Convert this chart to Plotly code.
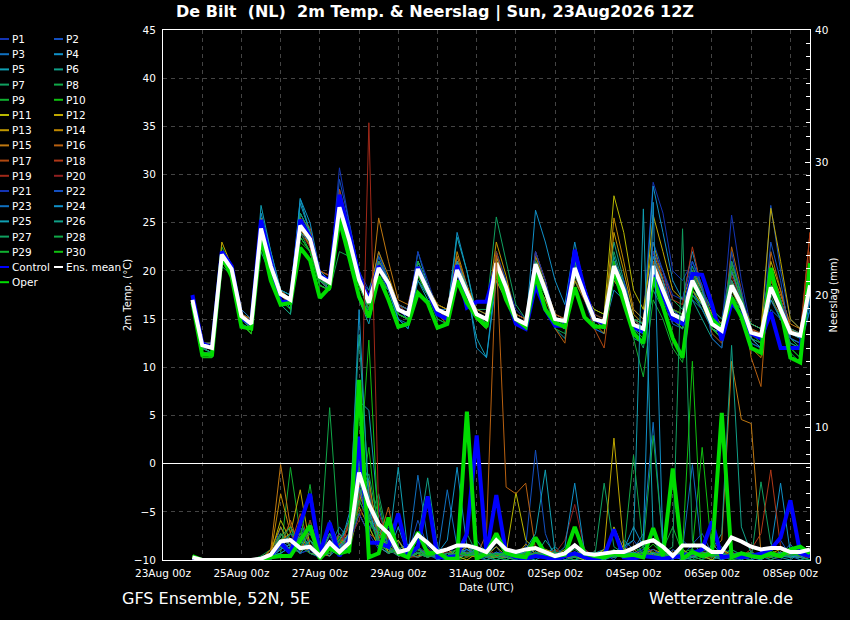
"""GFS ensemble meteogram for De Bilt: 2m temperature and 6-hourly precipitation."""

import pandas as pd
import plotly.graph_objects as go

# forecast steps: 23Aug 18z ... 08Sep 12z, every 6 hours (64 values per series)
times = pd.date_range("2026-08-23 18:00", periods=64, freq="6h")

# ---- 2m temperature (degC) ----
p01_temp = [17.5, 12.5, 12, 22, 20.5, 15.5, 15, 25, 21, 18, 17.5, 26, 24, 20, 19.5, 30.7, 25, 20, 18, 21, 19,
            16.5, 16, 21, 18.5, 16, 15, 19, 17, 15, 14.5, 21.5, 19, 16, 15, 22, 19, 15, 14, 19, 17,
            14, 13.5, 21, 19, 16, 15, 29.2, 26, 20, 19, 21, 18, 15, 14, 25.8, 19, 14, 13, 20, 17, 14, 13, 17]
p02_temp = [17, 12, 11.5, 21.5, 20, 15, 14, 24, 20, 17, 16.5, 24, 23, 19, 18.5, 28.5, 24, 20, 17, 22, 19,
            16, 15, 20, 18, 15.5, 15, 21, 18, 16, 15.5, 22, 19, 15.5, 15, 20, 18, 15, 14, 21, 18,
            15, 14.5, 19, 18, 14, 13, 22, 20, 17, 16, 20, 18, 16, 15, 21, 17.5, 13, 12.5, 26.8, 20, 15, 14, 20]
p03_temp = [17, 12.5, 12, 21, 20, 15, 14.5, 25, 21, 18, 17, 25.5, 23.5, 19, 18, 27, 23, 19, 15.5, 19, 18,
            15, 14.5, 19.5, 17.5, 16, 16, 21, 18, 15, 14.5, 20, 18, 14.5, 14, 19, 17, 15.5, 15, 22, 18,
            14, 13.5, 20, 17, 15, 14, 21, 19, 16, 15, 18, 16, 14, 13, 17, 15, 13, 12, 16, 15, 14, 13.5, 18]
p04_temp = [17.5, 12, 12, 22, 20.5, 15.5, 15, 24.5, 21, 18, 17.5, 27, 24, 20, 19, 27.5, 24, 19, 17, 21, 19,
            16, 15, 22, 18.5, 16, 15.5, 24, 20, 15, 14, 19, 17, 14.5, 14, 26.3, 23, 19, 16.5, 23, 18,
            15, 14, 18, 17, 14, 13.5, 28.8, 24, 19, 17, 22, 18, 15, 14, 19, 17, 14, 13.5, 18, 16.5, 13, 12, 17]
p05_temp = [17, 12, 11.5, 21, 20, 15, 14, 26.8, 22, 18, 16, 27.5, 24, 19.5, 18, 26, 22, 17, 14.5, 19.5, 18,
            15, 14, 19, 17, 16, 15, 20.5, 18, 13, 11, 19, 17, 15, 14.5, 21, 18.5, 14, 13, 20, 17,
            15, 14.5, 21.5, 18, 13, 12.5, 21, 18, 16, 15.5, 18, 17, 14.5, 13.5, 19, 16, 14, 13, 17, 15.5, 12, 12, 16]
p06_temp = [16.5, 12, 12, 21.5, 20, 15, 14, 23.5, 20, 17, 16.5, 26, 24, 19.5, 19, 25, 22.5, 19, 18, 21.5, 19,
            16.5, 16, 20, 18, 16.5, 16, 21.5, 18, 15.5, 15, 22, 18.5, 15, 14.5, 21, 18, 14.5, 14, 19, 17,
            16, 15.5, 23, 19, 15, 14, 21, 18, 15, 14, 17, 15, 13, 12, 19, 16, 12.5, 12, 20, 17, 13, 12.5, 19]
p07_temp = [17, 11.5, 11, 22, 20, 15, 14.5, 23, 20, 17.5, 16.5, 23.5, 22, 19, 18, 25, 22, 19, 16, 20, 18,
            16, 15.5, 21, 18.5, 15.5, 15, 19, 17, 16, 16, 25.6, 21, 16.5, 15, 20, 18, 15.5, 15, 19, 17.5,
            15, 14.5, 20, 18, 14, 12, 18, 16, 15, 14, 20, 17, 15, 14.5, 19, 17, 13, 12.5, 19, 17, 14, 13, 20]
p08_temp = [16.5, 11.5, 11.5, 21, 19.5, 14.5, 14, 24, 20, 16.5, 15.5, 24.5, 22.5, 18.5, 18, 27, 23.5, 19.5, 17.5, 21, 19,
            16.5, 16, 19, 17.5, 15, 14.5, 20, 17.5, 15.5, 15, 21, 18, 14.5, 14, 20.5, 17.5, 15, 14.5, 21, 18,
            15.5, 15, 20, 18, 15, 14.5, 19, 17, 17, 16, 20, 18, 16, 15, 17, 16, 13.5, 13, 17.5, 15, 13, 12, 18]
p09_temp = [17, 12, 11.5, 22.5, 20.5, 15.5, 14.5, 24.5, 20.5, 18, 17.5, 25, 23, 19.5, 19, 26, 22.5, 18.5, 16.5, 19.5, 18,
            15.5, 15, 20.5, 18, 16, 15.5, 19.5, 17.5, 15, 14.5, 19.5, 17.5, 15.5, 15, 21.5, 18.5, 15, 14.5, 20, 17,
            15, 14.5, 19, 17.5, 13, 9, 17, 15, 12, 10.5, 17.5, 16, 14, 13, 18, 16, 14, 13.5, 19, 17, 13.5, 13, 19]
p10_temp = [16.5, 11, 11, 21, 19.5, 14.5, 13.5, 23.5, 20, 17, 16, 23, 22, 18.5, 18, 25.5, 22.5, 19, 17, 20, 18.5,
            16, 15.5, 19, 17.5, 15.5, 15, 20, 17.5, 15, 14.5, 21, 18, 15, 14.5, 19.5, 17.5, 14.5, 14, 19, 17,
            14.5, 14, 20, 17.5, 14.5, 14, 21, 18, 15.5, 15, 18, 16.5, 14, 13, 19, 16.5, 13, 12, 19, 16.5, 12, 11, 20]
p11_temp = [17.5, 12.5, 12, 22, 20.5, 15.5, 15, 24.5, 21, 17.5, 17, 25.5, 23.5, 19.5, 19, 27.5, 24, 19.5, 17, 21, 19,
            16, 15.5, 20, 18, 16, 15.5, 21, 18, 15, 14.5, 21.5, 18.5, 15.5, 15, 20, 17.5, 15, 14.5, 20.5, 17.5,
            16, 15.5, 27.8, 24, 18, 16, 23, 19, 15, 14.5, 18.5, 17, 14, 13.5, 19, 16, 14.5, 14, 21, 18, 14, 13.5, 18.5]
p12_temp = [17, 12.5, 12.5, 23, 20.5, 16, 15, 24, 20.5, 17.5, 17, 24.5, 22.5, 19, 18.5, 26.5, 23, 19, 17, 20.5, 19,
            16.5, 16, 20.5, 18, 16, 15, 19, 17.5, 15.5, 14.5, 20, 18, 14.5, 14, 20, 17.5, 15, 14.5, 19.5, 17.5,
            15, 14, 21, 18.5, 15, 14.5, 25.8, 22, 18, 17, 20, 18, 15.5, 14.5, 20, 17, 14.5, 14, 26.5, 21, 15, 14, 20]
p13_temp = [17, 12.5, 12, 21.5, 20, 15, 14.5, 25.5, 21.5, 17.5, 17, 25, 23.5, 19.5, 19, 26.5, 23, 18.5, 16.5, 19.5, 18,
            15.5, 15, 21, 18.5, 16.5, 16, 21, 18.5, 16, 15.5, 23, 19.5, 15, 14, 19, 17, 14.5, 14, 20.5, 18,
            14.5, 13.5, 24, 20, 15.5, 14.5, 22, 19, 15, 14, 18, 16.5, 14, 13, 21, 17.5, 13, 12, 18, 16, 13.5, 13, 17.5]
p14_temp = [17, 12, 12, 21, 19.5, 15, 14, 25, 21.5, 18, 17, 25.5, 23, 20, 19.5, 28, 24.5, 19.5, 17.5, 22, 19.5,
            16.5, 16, 19.5, 18, 16.5, 16, 22, 18.5, 15.5, 15, 19, 17, 15, 14.5, 21, 18.5, 15.5, 15, 20, 17.5,
            15, 14.5, 25.5, 21, 16, 15, 21, 18, 16, 15.5, 19, 17.5, 14.5, 14, 18, 16, 12, 11, 19, 17, 14, 13, 19]
p15_temp = [17, 12, 11.5, 21, 20, 14.5, 13.5, 24, 20, 17.5, 16.5, 24.5, 22.5, 19, 18, 27, 23.5, 18.5, 16, 25.5, 21,
            17, 16.5, 21, 18.5, 15.5, 14.5, 20, 17.5, 15, 14, 21, 18, 14.5, 14, 21.5, 19, 14.5, 14, 19, 17,
            15, 14.5, 19, 17.5, 14.5, 14, 20, 17.5, 16, 15.5, 18.5, 17, 14, 13, 20, 17, 14, 13.5, 20, 17.5, 14.5, 14, 19.5]
p16_temp = [17.5, 12.5, 12.5, 22, 20.5, 15.5, 15, 24, 20.5, 17.5, 17, 24, 23, 19, 18.5, 25.5, 22.5, 19, 17, 21, 19,
            16, 15.5, 20.5, 18.5, 15.5, 15, 21.5, 18.5, 15.5, 15, 20, 18, 15, 14, 22, 19, 14, 12.5, 20.5, 18,
            15, 14, 20, 18, 15, 14.5, 21.5, 18.5, 15.5, 15, 20, 18, 13.5, 12.5, 22.5, 18, 11, 8, 22, 18, 14, 13, 24]
p17_temp = [17, 12, 11.5, 22, 20.5, 15, 14, 25, 21, 18, 17, 25.5, 24.5, 20, 19.5, 28.5, 24.5, 19, 17, 21, 19,
            16.5, 15.5, 19.5, 18, 16, 15, 20, 18, 15, 14, 19.5, 17.5, 14.5, 14, 21, 18, 15, 14.5, 21, 18,
            14, 12, 20, 17.5, 15, 14, 21, 18.5, 15, 14.5, 19, 17, 14.5, 13.5, 17.5, 15.5, 14, 13, 17, 15.5, 13.5, 13, 22]
p18_temp = [17, 12, 12, 21.5, 20, 15.5, 14.5, 24.5, 21, 17.5, 17, 25, 23, 19.5, 19, 27, 23.5, 19, 16.5, 20, 18.5,
            16, 15.5, 20.5, 18, 16, 15.5, 20.5, 18, 15.5, 15, 21, 18.5, 15.5, 15, 20.5, 18, 15.5, 15, 22, 18.5,
            15, 14.5, 21, 18, 14.5, 14, 22, 20, 17, 16.5, 22.5, 18, 15, 14.5, 18.5, 16.5, 14, 13.5, 19, 17, 14, 13.5, 24]
p19_temp = [17, 12.5, 12, 21, 20, 15, 14.5, 23.5, 20.5, 17.5, 17, 24.5, 23, 19.5, 19, 28, 24.5, 19.5, 17.5, 20, 18.5,
            16, 15.5, 19.5, 17.5, 15.5, 15, 19.5, 17.5, 15.5, 15, 22, 18.5, 15, 14.5, 21, 18, 15, 14.5, 19.5, 17,
            15, 14.5, 20, 17.5, 14.5, 13.5, 19, 17.5, 15, 14.5, 20, 17.5, 14, 13.5, 19.5, 17, 14, 13, 18.5, 16, 14, 13.5, 17]
p20_temp = [17, 12, 11.5, 21.5, 20, 15, 14, 24, 20.5, 17.5, 16.5, 24, 22.5, 19, 18, 26, 23, 18.5, 16, 19.5, 18,
            15.5, 15, 20, 18, 15.5, 15, 20.5, 18, 15, 14.5, 20.5, 18, 15, 14.5, 20, 17.5, 15, 14.5, 20.5, 18,
            15.5, 15, 20, 18, 14.5, 14, 21.5, 19.5, 16, 15.5, 19.5, 17.5, 14.5, 14, 19, 16.5, 13.5, 13, 18, 16, 13, 12.5, 18]
p21_temp = [17, 12, 12, 22, 20, 15, 14, 24.5, 20.5, 17.5, 17, 24.5, 23, 19.5, 19, 27, 23, 19, 16.5, 20, 18.5,
            16, 15.5, 22, 19, 16, 15.5, 20.5, 18, 15, 14.5, 21, 18.5, 15, 14.5, 22, 19, 15, 14.5, 20, 17.5,
            15, 14.5, 20.5, 18, 14.5, 14, 22, 20, 17.5, 17, 21, 18.5, 15, 14, 21, 18, 13.5, 13, 19.5, 17, 13.5, 13, 18]
p22_temp = [17, 12.5, 12, 21.5, 20, 15.5, 14.5, 23.5, 20, 17.5, 17, 24.5, 23.5, 19.5, 19, 29.5, 25, 20, 17, 21.5, 19,
            16.5, 16, 21, 18.5, 15.5, 15, 19.5, 17.5, 15.5, 15, 21, 18.5, 15, 14.5, 20.5, 18, 14.5, 14, 21, 18,
            15, 14.5, 21, 19, 14.5, 14, 23, 20, 16, 15, 21, 18.5, 13, 12, 22, 17, 12.5, 12, 23, 19, 13, 12.5, 20]
p23_temp = [17.5, 12.5, 12.5, 22, 20.5, 16, 15, 24.5, 21, 17.5, 17, 24, 23, 19, 18.5, 26, 23, 19, 16.5, 19.5, 18,
            15.5, 15, 19, 17.5, 16, 15.5, 20, 17.5, 15.5, 15, 20, 18, 15, 14.5, 21, 18, 15, 14.5, 20.5, 18,
            15, 14.5, 19.5, 17.5, 14, 13.5, 19.5, 17, 14.5, 14, 17, 16, 14, 13, 20, 17, 13.5, 13, 20, 17, 13, 12.5, 16]
p24_temp = [17, 12, 11.5, 21.5, 20, 15, 14, 26, 22, 18, 17.5, 27.5, 25, 20, 19, 27, 23, 19, 17, 19, 18,
            15, 14, 21, 18, 15.5, 15, 21, 18.5, 12, 11, 20, 17.5, 14.5, 14, 20.5, 18, 15, 14.5, 20, 17.5,
            15, 14.5, 20.5, 18, 14, 13.5, 21.5, 19, 15, 14.5, 19, 17.5, 14, 13.5, 18.5, 16.5, 13, 12, 17, 15, 12.5, 12, 17]
p25_temp = [17, 12, 11.5, 21.5, 20, 15, 14, 23.5, 20, 17, 16, 25, 24, 19, 18, 26, 23, 18.5, 16.5, 20, 18.5,
            15.5, 15, 20.5, 18, 16, 15.5, 23.5, 20, 15.5, 14.5, 20, 17.5, 15, 14.5, 20, 17.5, 14.5, 14, 22, 18.5,
            15, 14.5, 20.5, 18, 14, 13, 20, 17, 15, 14.5, 17.5, 16.5, 14.5, 14, 18, 16.5, 13.5, 13, 18.5, 16, 13.5, 13, 17.5]
p26_temp = [16.5, 12, 11.5, 22, 20, 15, 14, 22, 19.5, 16.5, 15.5, 23.5, 22, 18.5, 18, 25, 22, 18.5, 16, 21, 19,
            16, 15.5, 20, 18, 15.5, 15, 19.5, 17.5, 15.5, 15, 19.5, 17.5, 15, 14.5, 20.5, 18, 15, 14.5, 21, 18,
            14.5, 14, 20, 17.5, 15, 14.5, 20, 17.5, 15.5, 15, 20.5, 18, 14, 13.5, 19, 16.5, 14.5, 14, 18.5, 16.5, 14, 13.5, 19]
p27_temp = [17, 12, 11.5, 21.5, 20, 14.5, 14, 25, 21.5, 17.5, 17, 26, 24, 19, 18.5, 25.5, 22.5, 18.5, 16.5, 20.5, 18.5,
            16, 15.5, 20, 18, 16, 15.5, 20, 18, 15.5, 15, 19.5, 17.5, 14.5, 14, 21, 18, 15, 14.5, 19.5, 17.5,
            15, 14.5, 22, 18.5, 15, 14.5, 19, 17, 15, 14.5, 20, 17.5, 15, 14.5, 17.5, 16, 13.5, 13, 18, 16, 12.5, 12, 18]
p28_temp = [16.5, 11.5, 11.5, 20.5, 19.5, 14.5, 13.5, 23, 19.5, 17, 16, 24, 22, 18.5, 18, 22, 21.5, 18.5, 16.5, 20, 18.5,
            15.5, 15, 19.5, 17.5, 15, 14.5, 20.5, 18, 15.5, 15, 20, 18, 15, 14, 19.5, 17.5, 14, 13.5, 20, 17.5,
            14.5, 14, 20, 18, 15, 14.5, 20.5, 18, 15, 14.5, 19.5, 17.5, 14.5, 14, 21, 17.5, 13.5, 13, 19.5, 16.5, 11.5, 10.5, 19.5]
p29_temp = [17, 11.5, 11.5, 21, 19.5, 15, 14, 24.5, 21, 17, 16.5, 24.5, 23, 19, 18.5, 26, 23, 18.5, 16, 19, 18,
            16, 15.5, 21, 18.5, 16, 15.5, 20.5, 18, 15, 14.5, 20, 17.5, 15, 14.5, 20, 18, 15, 14.5, 20.5, 18,
            14.5, 14, 21, 18, 14, 13, 20, 17.5, 15, 14, 19, 17, 14, 13, 20.5, 17, 13.5, 13, 20, 17, 12, 11, 20.5]
p30_temp = [16.5, 11, 11, 21, 19.5, 14.5, 13.5, 23.5, 20, 17, 16, 23.5, 22, 18.5, 18, 25, 22.5, 18.5, 16.5, 19.5, 18,
            15.5, 15, 19.5, 17.5, 15.5, 15, 20.5, 18, 15, 14, 21, 18, 15, 14.5, 19.5, 17.5, 14.5, 14, 20, 17.5,
            15, 14.5, 21, 18, 14.5, 14, 19.5, 17.5, 16, 15.5, 18.5, 17, 14, 13, 18.5, 16, 13.5, 12.5, 18.5, 16.5, 11, 10.5, 20]
control_temp = [17.5, 12.5, 12, 22, 20.5, 15.1, 14.5, 25.3, 21, 16.8, 16.8, 25.3, 23.5, 19.5, 19, 27.9, 24, 19.5, 17, 20.5, 18.5,
                16, 15.5, 20.4, 18, 15.5, 15, 20.6, 16.2, 16.8, 16.8, 20.5, 17.5, 14.5, 14, 18.5, 16, 14.3, 14.3, 22.2, 18,
                15, 14.5, 20, 17.5, 14.2, 13.7, 20.1, 17.5, 15, 14.5, 19.7, 19.6, 16.5, 12.8, 16.7, 15.5, 13.5, 13, 15.7, 12, 12, 12, 19.4]
oper_temp = [16.7, 11.3, 11.3, 21.6, 19.4, 14.2, 14, 23.5, 19, 16.5, 16.7, 22.4, 21.1, 17.2, 18.3, 25.3, 21.4, 17.3, 15.2, 19.4, 17,
             14.2, 14.5, 17.7, 16.7, 14.1, 14.5, 19, 16.7, 15.2, 14.2, 20.1, 17, 15, 14.2, 19.6, 16, 14.6, 14.2, 18.3, 15.2,
             14.2, 14.2, 20.1, 16.7, 13.5, 12.5, 19.3, 16.3, 13, 11, 18.9, 17, 15, 14, 17.2, 15.2, 12, 11.5, 20.3, 16, 11, 10.5, 20.8]
mean_temp = [17, 12.3, 12, 21.7, 20.2, 15.3, 14.5, 24.4, 20.5, 17.6, 17, 24.7, 23.3, 19.4, 18.8, 26.6, 23.2, 19.1, 16.7, 20.3, 18.7,
             16, 15.5, 20.2, 18, 16, 15.5, 20.1, 17.8, 15.5, 15, 20.8, 18.3, 15, 14.5, 20.7, 18, 15, 14.8, 20.3, 17.5,
             15, 14.7, 20.5, 18, 14.4, 14, 20.5, 18, 15.5, 15, 19, 17, 14.5, 13.8, 18.5, 16.5, 13.6, 13.3, 18.3, 16, 13.6, 13.3, 18.5]

# ---- 6-hourly precipitation (mm) ----
p01_rain = [0.3, 0, 0, 0, 0, 0, 0, 0, 0.5, 1.2, 0.8, 2.5, 1.5, 0.3, 1.8, 0.5, 2.0, 6.0, 3.5, 1.5, 2.5, 0.5, 0.2, 1.0,
            0.5, 0, 0.3, 1.2, 0.8, 0.4, 0, 0.5, 0.2, 0, 0.8, 1.5, 0.3, 0, 0, 0.6, 0, 0, 0.3, 0.5, 1.2, 0.4, 0.8, 2.0,
            0.5, 0, 1.5, 0.8, 0.3, 0, 0.5, 0.8, 0.3, 0, 0.6, 0.2, 0, 1.0, 0.5, 0.2]
p02_rain = [0, 0, 0, 0, 0, 0, 0, 0, 0.2, 2.5, 1.0, 0.5, 0.8, 0, 3.0, 1.0, 0.5, 9.0, 2.0, 4.0, 1.0, 0.3, 0.5, 3.0,
            1.0, 0.2, 0, 0.5, 0.3, 1.5, 0.5, 1.0, 0, 0.3, 1.0, 8.3, 2.0, 0, 0.3, 0.5, 0.2, 0, 0.5, 0, 0.8, 1.5, 0.5, 0.2,
            0, 0.8, 0.3, 1.2, 2.0, 0.5, 0, 0.3, 0.5, 0.2, 0, 0.8, 1.5, 0.3, 0, 0.5]
p03_rain = [0, 0, 0, 0, 0, 0, 0, 0, 0.3, 0.8, 2.0, 1.5, 0.5, 0.5, 1.0, 2.5, 1.5, 5.0, 4.0, 2.0, 0.8, 1.5, 0.5, 6.4,
            1.5, 0.3, 0.5, 0, 0.8, 0.2, 0, 0.3, 0.5, 0.2, 0, 0.6, 0.3, 0.8, 0, 0, 0.5, 0.2, 0, 0.3, 1.5, 0.8, 2.0, 10.4,
            1.0, 0.3, 0, 0.5, 0.2, 0.8, 0.3, 0, 0, 0.5, 0.3, 0, 0.4, 1.2, 0.2, 0]
p04_rain = [0.2, 0, 0, 0, 0, 0, 0, 0, 0, 1.5, 0.5, 3.0, 1.0, 0.2, 2.0, 0.8, 3.5, 8.0, 6.0, 1.0, 0.5, 2.5, 0.3, 0.8,
            0.3, 0.5, 1.5, 7.0, 1.0, 0.3, 0.5, 0.2, 0, 0.4, 0.3, 0.8, 0.5, 0.3, 0.2, 1.0, 0.3, 0, 0.2, 0.5, 0.8, 2.5, 1.0, 0.4,
            0.5, 0, 0.8, 0.3, 0, 1.2, 0.5, 0.3, 0.2, 0, 0.3, 0.8, 5.8, 0.5, 0.3, 0]
p05_rain = [0, 0, 0, 0, 0, 0, 0, 0, 0.3, 0.5, 1.0, 0.8, 2.2, 0.5, 0.3, 1.5, 2.5, 12.0, 11.3, 3.0, 0.5, 0.8, 1.2, 0.5,
            0.8, 0, 0.3, 0.5, 1.0, 0.6, 0.2, 0, 0.3, 0.5, 0.2, 0, 0.4, 1.0, 0.3, 0, 0.2, 0.5, 0.8, 0.3, 1.0, 1.5, 26.5, 2.0,
            0.5, 0.3, 0, 0.2, 0.6, 0.3, 0, 0.5, 0.2, 0.3, 0, 0.5, 0.2, 0, 0.6, 0.3]
p06_rain = [0, 0, 0, 0, 0, 0, 0, 0, 0.2, 1.0, 0.5, 1.8, 1.0, 0.3, 2.5, 1.0, 1.2, 7.0, 5.5, 2.0, 3.0, 0.8, 0.5, 1.5,
            6.2, 1.0, 0.3, 0, 0.5, 0.8, 0.3, 0.5, 0.2, 0, 0.5, 0.3, 1.5, 0.5, 0, 0.3, 0.8, 0.2, 0, 0.5, 0.3, 0.8, 1.2, 0.5,
            0.3, 0.6, 0.2, 0, 0.8, 0.5, 1.0, 0.3, 0, 0.4, 0.2, 0.6, 0.3, 0.5, 0, 0.2]
p07_rain = [0, 0, 0, 0, 0, 0, 0, 0, 0.5, 1.8, 2.5, 0.5, 1.5, 0.2, 0.8, 0.3, 0.8, 4.5, 3.0, 5.0, 1.5, 0.3, 0.8, 1.0,
            0.3, 0.2, 0.5, 0.8, 2.0, 0.5, 0, 0.3, 0.6, 0.2, 0.3, 0.5, 0.2, 0, 0.5, 0.8, 0.3, 0, 5.8, 1.0, 0.5, 0.3, 0.8, 1.5,
            0.3, 0.5, 0.2, 0.8, 0.4, 0, 0.3, 0.5, 0.2, 0, 5.9, 1.2, 0.5, 0.3, 0.2, 0.5]
p08_rain = [0, 0, 0, 0, 0, 0, 0, 0.3, 0.8, 2.0, 1.0, 0.5, 3.0, 0.5, 11.5, 1.0, 0.5, 6.5, 2.5, 1.0, 0.8, 1.5, 0.2, 0.5,
            0.2, 0.8, 0.3, 0, 0.5, 1.0, 0.4, 0, 0.3, 0.5, 0, 0.2, 0.6, 0.3, 0.8, 0.2, 0, 0.5, 0.3, 0.8, 0.2, 0.5, 1.0, 9.4,
            1.2, 0.3, 0.5, 0, 0.2, 0.6, 0.3, 0.8, 0.4, 0.2, 0.5, 0, 0.3, 0.6, 0.2, 0]
p09_rain = [0.2, 0, 0, 0, 0, 0, 0, 0, 0.3, 0.5, 7.0, 2.0, 1.0, 0.2, 1.5, 0.5, 1.0, 3.5, 2.0, 4.5, 1.0, 0.5, 0.3, 0.8,
            0.5, 0.2, 0, 0.6, 0.3, 0.8, 0.2, 1.5, 0.3, 0, 0.4, 0.2, 0.8, 0.5, 0.3, 0, 0.5, 0.2, 0.8, 0.3, 0.6, 1.0, 0.5, 0.3,
            0.8, 2.5, 0.5, 0.3, 0, 0.4, 0.8, 0.2, 0.5, 0.3, 0.2, 0.6, 0.3, 0.2, 0.5, 0.4]
p10_rain = [0, 0, 0, 0, 0, 0, 0, 0, 0.2, 1.0, 0.5, 1.5, 2.5, 0.8, 0.5, 1.8, 0.5, 4.0, 8.5, 1.5, 0.5, 1.0, 0.3, 0.5,
            0.8, 0.3, 0.5, 0, 0.2, 0.5, 1.0, 0.3, 0, 0.4, 0.2, 0.5, 0.3, 0.8, 0.2, 0.5, 0.3, 0, 0.5, 0.2, 0.8, 0.3, 0.5, 1.2,
            0.4, 0.3, 0.6, 0.8, 8.5, 0.5, 0.3, 0, 0.2, 0.5, 0.3, 0.8, 0.2, 0.4, 0.6, 0.3]
p11_rain = [0.3, 0, 0, 0, 0, 0, 0, 0, 0.5, 3.0, 1.5, 2.0, 0.5, 0.3, 1.0, 2.0, 0.8, 5.5, 3.0, 2.5, 0.5, 1.0, 0.2, 0.3,
            0.5, 0.2, 0.8, 0.3, 0, 0.5, 0.3, 0.2, 0.5, 5.1, 1.5, 0.8, 0.3, 0.5, 0.2, 0.3, 0, 0.5, 0.2, 2.5, 0.8, 0.3, 0.5, 0.2,
            0.3, 0.6, 0.2, 0.5, 0.3, 0, 0.8, 0.4, 0.2, 0.3, 0.5, 0.2, 0.6, 0.3, 0.5, 0.2]
p12_rain = [0, 0, 0, 0, 0, 0, 0, 0, 0.3, 1.5, 2.0, 5.3, 1.0, 0.5, 0.8, 1.2, 2.0, 4.0, 2.5, 1.0, 2.0, 0.3, 0.5, 0.8,
            0.2, 0.5, 0.3, 0.8, 0.5, 0.2, 0.3, 1.0, 0.3, 0.2, 0.5, 0.3, 0.8, 0.5, 0.3, 0.6, 0.2, 0.3, 0.8, 9.2, 1.0, 0.3, 0.5, 0.8,
            0.5, 0.2, 0.3, 0.6, 0.4, 0.8, 0.2, 0.3, 0.5, 0.2, 0.4, 0.3, 0.6, 0.2, 0.4, 0.3]
p13_rain = [0, 0, 0, 0, 0, 0, 0, 0, 0.8, 2.5, 1.0, 1.5, 0.5, 0.3, 2.0, 0.8, 1.5, 8.0, 4.5, 3.0, 0.5, 1.5, 0.3, 0.5,
            0.3, 0.8, 0.2, 0.5, 1.0, 0.3, 0.5, 0.2, 0.6, 0.3, 1.2, 0.5, 0.2, 0.3, 0.8, 0.5, 0.3, 0.6, 0.2, 0.5, 0.3, 0.8, 1.5, 0.3,
            0.5, 0.2, 0.8, 0.3, 0.6, 0.5, 0.3, 0.2, 0.6, 0.3, 0.2, 0.5, 0.8, 0.3, 0.2, 0.5]
p14_rain = [0, 0, 0, 0, 0, 0, 0, 0, 0.5, 5.0, 2.0, 1.0, 0.8, 0.2, 1.5, 0.5, 3.0, 4.5, 6.0, 1.5, 1.0, 0.5, 0.3, 0.8,
            0.5, 0.2, 0.3, 0.8, 0.4, 0.2, 0.6, 0.3, 0.2, 0.5, 0.3, 0.6, 0.2, 0.4, 0.3, 0.5, 0.6, 0.3, 0.5, 0.2, 0.8, 0.4, 0.3, 0.6,
            0.3, 0.5, 0.2, 0.4, 0.6, 0.3, 0.8, 0.2, 0.4, 0.6, 0.3, 0.2, 0.5, 0.3, 0.6, 0.4]
p15_rain = [0, 0, 0, 0, 0, 0, 0, 0, 0.8, 7.2, 2.5, 1.5, 0.5, 0.3, 1.0, 1.5, 0.8, 5.0, 3.0, 2.0, 0.8, 0.5, 0.2, 0.5,
            0.3, 0.5, 0.2, 0.8, 0.3, 0.5, 0.2, 0.3, 0.5, 0.3, 0.2, 0.5, 0.8, 0.3, 0.2, 0.4, 0.3, 0.5, 0.2, 0.3, 0.6, 0.8, 0.3, 0.5,
            0.2, 0.4, 0.3, 0.5, 0.3, 0.8, 1.5, 15.0, 10.6, 10.3, 0.5, 0.3, 0.2, 0.6, 0.4, 0.3]
p16_rain = [0, 0, 0, 0, 0, 0, 0, 0, 0.3, 1.0, 3.0, 0.8, 1.5, 0.5, 0.3, 2.0, 1.0, 3.5, 2.0, 1.5, 4.0, 0.3, 0.5, 0.2,
            0.5, 0.3, 0.8, 0.2, 0.5, 0.3, 2.0, 23.0, 5.5, 5.0, 5.8, 0.8, 0.3, 0.5, 0.2, 0.3, 0.5, 0.2, 0.3, 0.6, 0.2, 0.5, 0.3, 0.8,
            0.3, 0.5, 0.2, 0.6, 0.3, 0.2, 0.5, 0.3, 0.2, 0.5, 0.3, 0.6, 0.2, 0.4, 0.3, 0.5]
p17_rain = [0, 0, 0, 0, 0, 0, 0, 0, 0.5, 2.0, 1.0, 3.5, 1.0, 0.3, 0.8, 1.2, 2.5, 6.5, 5.0, 1.0, 0.5, 0.8, 0.3, 0.5,
            0.2, 0.5, 0.3, 0.6, 0.2, 0.8, 0.3, 0.5, 0.3, 0.2, 0.6, 0.3, 0.5, 0.2, 0.4, 0.6, 0.3, 0.5, 0.2, 0.4, 0.3, 0.6, 0.2, 0.5,
            0.4, 0.3, 0.6, 0.2, 0.5, 0.3, 0.8, 0.2, 0.5, 0.3, 0.2, 0.6, 0.4, 0.8, 0.3, 0.2]
p18_rain = [0, 0, 0, 0, 0, 0, 0, 0, 0.2, 1.5, 0.8, 1.0, 2.0, 0.5, 1.5, 0.5, 3.0, 5.0, 4.0, 2.0, 1.0, 0.3, 0.5, 0.8,
            0.5, 0.3, 0.2, 0.5, 0.8, 0.3, 0.6, 0.2, 0.4, 0.3, 0.5, 0.2, 0.6, 0.3, 0.2, 0.5, 0.3, 0.6, 0.2, 0.5, 0.3, 0.2, 0.6, 0.3,
            0.5, 0.2, 0.4, 0.3, 0.6, 0.5, 0.2, 0.4, 0.3, 0.8, 2.0, 6.8, 1.0, 0.5, 0.3, 0.2]
p19_rain = [0, 0, 0, 0, 0, 0, 0, 0, 0.3, 0.8, 1.2, 0.5, 3.0, 0.5, 0.8, 1.5, 2.0, 4.0, 33.0, 3.5, 1.5, 0.5, 0.3, 0.5,
            0.8, 0.3, 0.5, 0.2, 0.6, 0.4, 0.3, 0.5, 0.3, 0.6, 0.2, 0.5, 0.3, 0.8, 0.3, 0.2, 0.5, 0.3, 0.6, 0.2, 0.4, 0.3, 0.5, 0.3,
            0.6, 0.2, 0.3, 0.5, 0.2, 0.6, 0.3, 0.4, 0.2, 0.5, 0.3, 0.4, 0.6, 0.2, 0.5, 0.3]
p20_rain = [0, 0, 0, 0, 0, 0, 0, 0, 0.5, 1.0, 0.5, 2.0, 0.8, 0.3, 1.2, 0.5, 1.5, 3.0, 5.5, 1.0, 2.0, 0.5, 0.3, 0.2,
            0.5, 0.3, 0.6, 0.2, 0.5, 0.3, 0.8, 0.4, 0.3, 0.5, 0.2, 0.6, 0.3, 0.5, 1.5, 4.2, 0.8, 0.3, 0.5, 0.2, 0.6, 0.3, 0.2, 0.5,
            0.3, 0.6, 0.2, 0.4, 0.3, 0.5, 0.2, 0.6, 0.3, 0.2, 0.5, 0.3, 0.4, 0.6, 0.3, 0.2]
p21_rain = [0, 0, 0, 0, 0, 0, 0, 0, 0.3, 1.2, 2.0, 0.5, 0.8, 0.2, 1.0, 2.0, 1.2, 3.5, 2.0, 0.8, 1.5, 0.3, 0.5, 0.8,
            0.3, 0.5, 0.2, 0.6, 0.3, 0.8, 0.2, 0.5, 0.6, 0.2, 0.4, 0.3, 0.5, 0.2, 0.6, 0.3, 0.5, 0.3, 0.2, 0.6, 0.3, 0.5, 0.8, 0.3,
            0.2, 0.5, 0.3, 0.6, 0.2, 0.4, 0.5, 0.3, 0.6, 0.2, 0.3, 0.5, 0.2, 0.8, 0.4, 0.3]
p22_rain = [0, 0, 0, 0, 0, 0, 0, 0, 0.2, 0.8, 1.5, 1.0, 2.5, 0.3, 0.5, 1.0, 0.8, 6.0, 3.0, 1.5, 0.5, 1.0, 0.2, 0.5,
            0.3, 0.2, 0.5, 0.3, 0.8, 0.5, 0.2, 0.6, 0.3, 0.5, 0.2, 0.4, 0.6, 0.3, 0.5, 0.2, 0.4, 0.6, 0.3, 0.2, 0.5, 0.3, 0.6, 0.8,
            0.3, 0.2, 0.5, 0.4, 0.3, 0.6, 0.2, 0.5, 0.3, 0.6, 0.2, 0.4, 0.5, 0.3, 0.2, 0.6]
p23_rain = [0, 0, 0, 0, 0, 0, 0, 0, 0.5, 1.5, 0.8, 2.5, 0.5, 0.2, 1.5, 0.8, 2.0, 5.5, 2.5, 3.0, 1.0, 0.5, 0.3, 0.8,
            0.5, 0.3, 5.3, 1.0, 0.5, 0.3, 0.2, 0.6, 0.3, 0.5, 0.2, 0.6, 0.3, 0.4, 0.2, 0.5, 0.3, 0.2, 0.5, 0.3, 0.6, 0.4, 0.3, 0.5,
            0.6, 0.3, 0.8, 7.2, 0.5, 0.3, 0.2, 0.4, 0.3, 0.5, 0.2, 0.6, 0.3, 0.2, 0.5, 0.3]
p24_rain = [0, 0, 0, 0, 0, 0, 0, 0, 0.3, 0.5, 1.0, 1.5, 0.8, 0.5, 2.0, 0.5, 1.5, 18.9, 4.0, 1.0, 0.5, 0.8, 0.3, 0.5,
            0.2, 0.6, 0.3, 0.5, 0.8, 0.3, 0.5, 0.2, 0.4, 0.3, 0.6, 0.2, 0.5, 0.3, 1.0, 5.8, 0.6, 0.3, 0.2, 0.5, 0.4, 0.8, 1.5, 27.0,
            1.0, 0.5, 0.3, 0.2, 0.6, 0.3, 0.5, 0.2, 0.4, 0.3, 0.6, 0.2, 0.5, 0.3, 0.2, 0.6]
p25_rain = [0, 0, 0, 0, 0, 0, 0, 0, 0.2, 0.8, 1.2, 0.5, 1.5, 0.8, 0.3, 1.0, 2.0, 7.5, 3.0, 2.0, 1.0, 7.0, 0.5, 0.8,
            0.3, 0.5, 0.2, 0.8, 0.4, 0.3, 0.6, 0.2, 0.5, 0.3, 0.8, 2.0, 6.8, 0.5, 0.3, 0.2, 0.6, 0.3, 0.5, 0.2, 0.4, 0.6, 0.3, 0.5,
            0.2, 0.5, 0.3, 0.6, 0.2, 0.4, 0.3, 0.5, 0.3, 0.2, 0.5, 0.3, 0.6, 0.2, 0.4, 0.3]
p26_rain = [0, 0, 0, 0, 0, 0, 0, 0, 0.5, 1.0, 0.5, 2.0, 1.0, 0.3, 0.8, 1.5, 3.0, 17.0, 5.0, 1.5, 0.8, 0.3, 0.5, 0.2,
            0.6, 0.3, 0.5, 0.2, 0.4, 0.8, 0.3, 0.5, 0.2, 0.4, 0.6, 0.3, 0.5, 0.2, 0.3, 0.6, 0.4, 0.2, 0.5, 0.3, 0.6, 0.4, 0.3, 0.2,
            0.5, 0.3, 0.6, 0.2, 0.4, 0.8, 2.0, 16.2, 2.5, 0.5, 0.3, 0.6, 0.2, 0.4, 0.5, 0.3]
p27_rain = [0, 0, 0, 0, 0, 0, 0, 0, 0.3, 2.0, 1.0, 0.8, 1.5, 0.5, 1.2, 0.3, 1.0, 5.0, 6.5, 2.5, 0.8, 0.5, 0.3, 0.6,
            0.4, 0.2, 0.5, 0.3, 0.6, 0.3, 0.8, 0.2, 0.5, 0.3, 0.2, 0.6, 0.4, 0.3, 0.5, 0.2, 0.3, 0.6, 0.2, 0.5, 0.3, 0.4, 0.6, 0.3,
            0.5, 1.0, 25.0, 1.5, 0.3, 0.6, 0.2, 0.4, 0.3, 0.5, 0.2, 0.6, 0.4, 0.3, 0.5, 0.2]
p28_rain = [0, 0, 0, 0, 0, 0, 0, 0.2, 0.5, 1.5, 2.5, 1.0, 0.5, 0.3, 2.0, 0.8, 1.5, 6.0, 3.5, 1.0, 2.0, 0.5, 0.3, 0.5,
            0.3, 0.6, 0.2, 0.5, 0.3, 0.8, 0.2, 0.4, 0.6, 0.3, 0.5, 0.2, 0.4, 0.6, 0.3, 0.5, 0.2, 0.4, 0.6, 0.3, 0.5, 7.9, 0.8, 0.3,
            0.5, 0.2, 0.4, 0.6, 0.3, 0.5, 0.2, 0.4, 0.6, 0.3, 0.5, 0.2, 0.4, 0.3, 0.6, 0.5]
p29_rain = [0, 0, 0, 0, 0, 0, 0, 0, 0.3, 1.0, 2.0, 1.5, 5.7, 0.5, 1.0, 0.8, 1.2, 4.5, 3.0, 1.5, 0.5, 0.8, 0.3, 0.5,
            0.2, 0.5, 0.3, 0.8, 0.4, 0.6, 0.3, 0.5, 0.3, 0.6, 0.2, 0.5, 0.3, 0.4, 0.6, 0.2, 0.5, 0.3, 0.6, 0.2, 0.4, 0.5, 0.3, 0.6,
            0.2, 0.5, 0.3, 0.4, 0.6, 0.2, 0.5, 0.3, 0.4, 0.6, 0.2, 0.5, 0.3, 0.6, 0.4, 0.2]
p30_rain = [0, 0, 0, 0, 0, 0, 0, 0, 0.5, 1.2, 0.8, 1.0, 2.0, 0.3, 0.5, 1.5, 1.0, 6.0, 16.6, 2.0, 1.0, 0.5, 0.3, 0.8,
            0.3, 0.5, 0.2, 0.6, 0.4, 0.3, 0.5, 0.2, 0.6, 0.3, 0.5, 0.2, 0.4, 0.3, 0.6, 0.5, 0.3, 0.5, 0.2, 0.6, 0.3, 0.4, 0.5, 0.3,
            0.6, 0.3, 0.8, 15.0, 0.5, 0.3, 0.4, 0.2, 0.5, 0.3, 0.6, 0.2, 0.4, 0.5, 0.3, 0.6]
control_rain = [0, 0, 0, 0, 0, 0, 0, 0, 0.3, 1.3, 0.5, 2.8, 5.0, 0.5, 2.8, 0.3, 1.5, 9.3, 1.3, 1.3, 1.0, 3.5, 0.3, 1.0,
                4.8, 0.2, 0.2, 0.3, 2.0, 9.4, 0.5, 4.9, 0.5, 0.2, 0.1, 0.3, 0.2, 0, 0.3, 0.5, 0.2, 0, 0.3, 2.3, 0.2, 0.1, 0.3, 0.2,
                0.1, 0.2, 0.3, 0.5, 0.8, 2.9, 0.2, 0.3, 0.2, 0.3, 0.5, 0.8, 1.7, 4.5, 0.5, 0.3]
oper_rain = [0.3, 0, 0, 0, 0, 0, 0, 0, 0.2, 0.3, 0.3, 1.5, 2.6, 0.1, 0.9, 0.5, 0.7, 13.6, 0.2, 0.5, 3.2, 0.5, 0.2, 2.1,
             0.5, 0.6, 0.1, 0.1, 11.2, 0.1, 0.5, 2.0, 0.5, 0.3, 0.2, 1.7, 0.5, 0.3, 0.4, 2.5, 0.5, 0.3, 0.2, 0.5, 0.3, 0.4, 0.2, 2.4,
             0.3, 6.9, 0.1, 0.6, 0.3, 0.5, 11.1, 0.2, 0.5, 0.3, 0.2, 0.5, 0.3, 0.8, 1.0, 0.5]
mean_rain = [0.2, 0, 0, 0, 0, 0, 0, 0.1, 0.4, 1.4, 1.5, 0.9, 1.0, 0.3, 1.3, 0.6, 1.3, 6.6, 4.2, 2.7, 2.0, 0.6, 0.8, 1.9,
             1.3, 0.6, 0.8, 1.1, 1.1, 0.9, 0.6, 1.5, 0.8, 0.6, 0.8, 0.9, 0.6, 0.3, 0.5, 1.1, 0.5, 0.4, 0.5, 0.6, 0.6, 0.9, 1.3, 1.5,
             1.0, 0.3, 1.1, 1.1, 1.1, 0.6, 0.6, 1.7, 1.4, 1.0, 0.8, 0.9, 0.9, 0.6, 0.6, 0.8]

member_temps = [p01_temp, p02_temp, p03_temp, p04_temp, p05_temp, p06_temp, p07_temp, p08_temp, p09_temp, p10_temp,
                p11_temp, p12_temp, p13_temp, p14_temp, p15_temp, p16_temp, p17_temp, p18_temp, p19_temp, p20_temp,
                p21_temp, p22_temp, p23_temp, p24_temp, p25_temp, p26_temp, p27_temp, p28_temp, p29_temp, p30_temp]
member_rains = [p01_rain, p02_rain, p03_rain, p04_rain, p05_rain, p06_rain, p07_rain, p08_rain, p09_rain, p10_rain,
                p11_rain, p12_rain, p13_rain, p14_rain, p15_rain, p16_rain, p17_rain, p18_rain, p19_rain, p20_rain,
                p21_rain, p22_rain, p23_rain, p24_rain, p25_rain, p26_rain, p27_rain, p28_rain, p29_rain, p30_rain]

# P1-P20 run blue -> green -> yellow -> red; P21-P30 reuse the first ten
palette = ["#1434b4", "#1450c0", "#1070c0", "#1090c8", "#10a0b4", "#10a088", "#10a060", "#10a848", "#10b030", "#10c010",
           "#b8b800", "#c0a800", "#c09800", "#c08800", "#c07810", "#b86010", "#b04810", "#b03818", "#a02818", "#902020"]
member_colors = palette + palette[:10]
member_names = [f"P{k}" for k in range(1, 31)]
CONTROL_COLOR = "#0000ff"
OPER_COLOR = "#00dd00"
MEAN_COLOR = "#ffffff"

FONT = "DejaVu Sans"
GRID = "#444444"
W, H = 850, 620
PL, PR, PT, PB = 163, 810, 30, 560


def fx(px):
    return (px - PL) / (PR - PL)


def fy(py):
    return (PB - py) / (PB - PT)


fig = go.Figure()

for name, color, temp in zip(member_names, member_colors, member_temps):
    fig.add_trace(go.Scatter(x=times, y=temp, name=name, mode="lines",
                             line=dict(color=color, width=1), yaxis="y"))
for name, color, rain in zip(member_names, member_colors, member_rains):
    fig.add_trace(go.Scatter(x=times, y=rain, name=name, mode="lines",
                             line=dict(color=color, width=1), yaxis="y2"))

for name, color, temp, rain in [
    ("Control", CONTROL_COLOR, control_temp, control_rain),
    ("Oper", OPER_COLOR, oper_temp, oper_rain),
    ("Ens. mean", MEAN_COLOR, mean_temp, mean_rain),
]:
    fig.add_trace(go.Scatter(x=times, y=temp, name=name, mode="lines",
                             line=dict(color=color, width=4), yaxis="y"))
    fig.add_trace(go.Scatter(x=times, y=rain, name=name, mode="lines",
                             line=dict(color=color, width=4), yaxis="y2"))

# two-column legend on the left, drawn by hand
legend_items = list(zip(member_names, member_colors))
legend_items += [("Control", CONTROL_COLOR), ("Ens. mean", MEAN_COLOR), ("Oper", OPER_COLOR)]
shapes, annotations = [], []
for k, (name, color) in enumerate(legend_items):
    row, col = divmod(k, 2)
    y = 39 + 15.2 * row
    x0 = 0 if col == 0 else 54
    shapes.append(dict(type="line", xref="paper", yref="paper",
                       x0=fx(x0), x1=fx(x0 + 9), y0=fy(y), y1=fy(y),
                       line=dict(color=color, width=2)))
    annotations.append(dict(text=name, xref="paper", yref="paper", x=fx(x0 + 9.5), y=fy(y),
                            xanchor="left", yanchor="middle", showarrow=False,
                            font=dict(family=FONT, size=10.5, color="white")))

annotations += [
    dict(text="<b>De Bilt  (NL)  2m Temp. & Neerslag | Sun, 23Aug2026 12Z</b>",
         xref="paper", yref="paper", x=fx(435), y=fy(12), xanchor="center", yanchor="middle",
         showarrow=False, font=dict(family=FONT, size=16, color="white")),
    dict(text="GFS Ensemble, 52N, 5E", xref="paper", yref="paper", x=fx(120), y=fy(598),
         xanchor="left", yanchor="middle", showarrow=False,
         font=dict(family=FONT, size=16, color="white")),
    dict(text="Wetterzentrale.de", xref="paper", yref="paper", x=fx(795), y=fy(598),
         xanchor="right", yanchor="middle", showarrow=False,
         font=dict(family=FONT, size=16, color="white")),
]

tick_font = dict(family=FONT, size=10.5, color="white")
fig.update_layout(
    width=W, height=H,
    margin=dict(l=PL, r=W - PR, t=PT, b=H - PB),
    paper_bgcolor="black", plot_bgcolor="black",
    showlegend=False,
    shapes=shapes, annotations=annotations,
    xaxis=dict(
        type="date", range=["2026-08-23 00:00", "2026-09-08 12:00"],
        tick0="2026-08-23", dtick=2 * 86400000, tickformat="%d%b %Hz",
        tickfont=tick_font, ticklabelstandoff=3,
        showgrid=True, gridcolor=GRID, griddash="4px,4px", gridwidth=1,
        minor=dict(dtick=86400000, showgrid=True, gridcolor=GRID, griddash="4px,4px"),
        showline=True, linecolor="white", linewidth=1, mirror=True, ticks="",
        zeroline=False, title=dict(text="Date (UTC)", font=dict(family=FONT, size=10, color="white"),
                                   standoff=6),
    ),
    yaxis=dict(
        range=[-10, 45], dtick=5, tickfont=tick_font, ticklabelstandoff=4,
        showgrid=True, gridcolor=GRID, griddash="4px,4px",
        zeroline=True, zerolinecolor="white", zerolinewidth=1,
        showline=True, linecolor="white", linewidth=1, mirror=True, ticks="",
        title=dict(text="2m Temp. (°C)", font=dict(family=FONT, size=10, color="white"), standoff=0),
    ),
    yaxis2=dict(
        overlaying="y", side="right", range=[0, 40], dtick=10, tickfont=tick_font,
        showgrid=False, zeroline=False, ticks="inside", ticklen=5, tickcolor="white",
        ticklabelstandoff=4,
        minor=dict(dtick=1, ticks="inside", ticklen=4, tickcolor="white"),
        title=dict(text="Neerslag (mm)", font=dict(family=FONT, size=10, color="white"), standoff=2),
    ),
)

# drop the browser's default page margin so the figure sits flush in the window
fig.write_html("out.html", config={"displayModeBar": False},
               post_script="document.body.style.margin='0';"
                           "document.body.style.backgroundColor='black';")
